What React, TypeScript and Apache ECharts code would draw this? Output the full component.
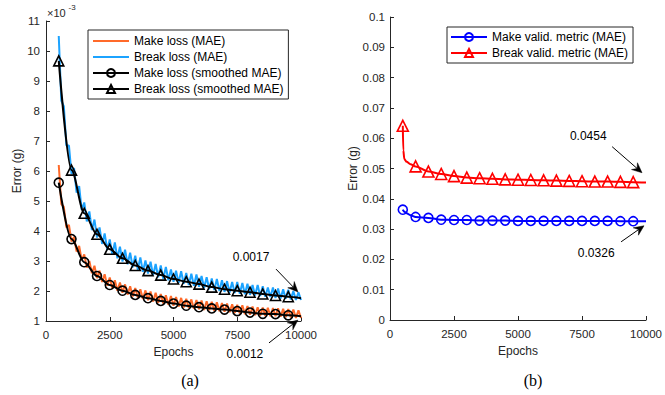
import React, { useEffect, useRef } from 'react';
import * as echarts from 'echarts';

// ---------- data ----------
// raw training losses sampled every 100 epochs from 500 to 10000 (x 10^-3 g)
const rawStart = 500;
const rawStep = 100;
const makeRaw = [
  6.2, 4.9, 4.8, 4.12, 4.2, 3.65, 3.8, 3.31, 3.5, 3.03,
  3.22, 2.78, 3.0, 2.59, 2.84, 2.43, 2.68, 2.3, 2.56, 2.18,
  2.45, 2.09, 2.36, 2.01, 2.28, 1.94, 2.22, 1.88, 2.16, 1.82,
  2.1, 1.78, 2.06, 1.73, 2.02, 1.69, 1.98, 1.65, 1.94, 1.61,
  1.9, 1.58, 1.86, 1.54, 1.83, 1.51, 1.8, 1.48, 1.77, 1.45,
  1.74, 1.43, 1.72, 1.41, 1.7, 1.39, 1.68, 1.37, 1.66, 1.36,
  1.64, 1.34, 1.62, 1.33, 1.6, 1.31, 1.58, 1.29, 1.56, 1.27,
  1.54, 1.25, 1.52, 1.23, 1.5, 1.21, 1.48, 1.19, 1.46, 1.18,
  1.45, 1.17, 1.44, 1.16, 1.43, 1.16, 1.42, 1.14, 1.41, 1.13,
  1.4, 1.12, 1.38, 1.1, 1.36, 1.1,
];
const breakRaw = [
  10.5, 8.35, 8.15, 6.85, 6.85, 5.9, 6.1, 5.28, 5.5, 4.7,
  4.95, 4.32, 4.65, 4.03, 4.38, 3.78, 4.12, 3.57, 3.92, 3.37,
  3.72, 3.21, 3.62, 3.09, 3.48, 2.98, 3.38, 2.89, 3.28, 2.79,
  3.18, 2.71, 3.12, 2.64, 3.02, 2.58, 2.98, 2.52, 2.9, 2.46,
  2.85, 2.41, 2.8, 2.36, 2.72, 2.31, 2.68, 2.27, 2.66, 2.24,
  2.6, 2.2, 2.58, 2.17, 2.55, 2.14, 2.5, 2.1, 2.46, 2.06,
  2.42, 2.03, 2.4, 2.0, 2.36, 1.97, 2.33, 1.95, 2.3, 1.93,
  2.3, 1.91, 2.27, 1.89, 2.24, 1.87, 2.2, 1.85, 2.2, 1.83,
  2.16, 1.81, 2.12, 1.8, 2.12, 1.77, 2.08, 1.75, 2.06, 1.74,
  2.04, 1.72, 2.0, 1.7, 1.96, 1.7,
];

// smoothed losses (markers every 500 epochs, last point at 10000 without marker)
const smoothEpochs = [500, 1000, 1500, 2000, 2500, 3000, 3500, 4000, 4500, 5000,
  5500, 6000, 6500, 7000, 7500, 8000, 8500, 9000, 9500, 10000];
const makeSmooth = [5.61, 3.73, 2.96, 2.5, 2.2, 2.01, 1.87, 1.76, 1.67, 1.58,
  1.51, 1.46, 1.42, 1.38, 1.33, 1.28, 1.24, 1.23, 1.19, 1.16];
const breakSmooth = [9.67, 6.03, 4.59, 3.89, 3.39, 3.09, 2.85, 2.68, 2.53, 2.4,
  2.31, 2.23, 2.13, 2.06, 2.01, 1.96, 1.9, 1.85, 1.81, 1.76];

// validation metrics
const validEpochs = [500, 520, 560, 650, 800, 1000, 1500, 2000, 2500, 3000, 3500, 4000,
  4500, 5000, 5500, 6000, 6500, 7000, 7500, 8000, 8500, 9000, 9500, 10000];
const makeValid = [0.0364, 0.0361, 0.0357, 0.0352, 0.0346, 0.034, 0.0337, 0.0331, 0.033, 0.033,
  0.0328, 0.0328, 0.0328, 0.0327, 0.0327, 0.0327, 0.0327, 0.0327, 0.0327, 0.0327,
  0.0327, 0.0326, 0.0326, 0.0326];
const breakValid = [0.0641, 0.056, 0.0531, 0.0522, 0.0514, 0.0507, 0.049, 0.0482, 0.0475, 0.047,
  0.0468, 0.0466, 0.0464, 0.0463, 0.0462, 0.0461, 0.046, 0.0459, 0.0458, 0.0457,
  0.0457, 0.0456, 0.0455, 0.0454];

const xTicks = { min: 0, max: 10000, interval: 2500 };
const yLeft = { min: 1, max: 11, interval: 1 };
const yRight = { min: 0, max: 0.1, interval: 0.01 };

// annotations in data coordinates
const annotations = [
  { grid: 0, text: '0.0017', at: [8040, 3.13], from: [9020, 2.73], to: [9880, 1.97] },
  { grid: 0, text: '0.0012', at: [7800, -0.1], from: [8745, 0.27], to: [9880, 1.03] },
  { grid: 1, text: '0.0454', at: [7743, 0.0608], from: [8677, 0.0572], to: [9844, 0.0486] },
  { grid: 1, text: '0.0326', at: [8054, 0.0222], from: [9027, 0.0258], to: [9922, 0.0311] },
];

const ORANGE = '#FF6A2A';
const LIGHTBLUE = '#1CA3FF';
const FONT = '"Liberation Sans", Arial, Helvetica, sans-serif';
const AX = '#262626';
const LINE_ICON = 'path://M0,0L36,0L36,2L0,2Z';

function axisCommon() {
  return {
    axisLine: { show: true, lineStyle: { color: AX, width: 1 } },
    axisTick: { show: true, inside: true, length: 4, lineStyle: { color: AX } },
    splitLine: { show: false },
    nameTextStyle: { color: AX, fontSize: 12, fontFamily: FONT },
  };
}

export default function App() {
  const ref = useRef<HTMLDivElement>(null);
  useEffect(() => {
    if (!ref.current) return;
    const chart = echarts.init(ref.current, null, { renderer: 'svg' });
    const rawEpochs = makeRaw.map((_, i) => rawStart + i * rawStep);
    const smoothData = (vals: number[]) =>
      smoothEpochs.map((e, i) =>
        i === smoothEpochs.length - 1 ? { value: [e, vals[i]], symbol: 'none' } : { value: [e, vals[i]] });
    const validData = (vals: number[]) =>
      validEpochs.map((e, i) => (e % 500 === 0 && e < 10000 ? { value: [e, vals[i]] } : { value: [e, vals[i]], symbol: 'none' }));
    const xLabel = { color: AX, fontSize: 11.5, fontFamily: FONT, margin: 8, formatter: (v: number) => String(v) };

    const option: any = {
      animation: false,
      backgroundColor: '#fff',
      textStyle: { fontFamily: FONT },
      grid: [
        { left: 46, top: 21, width: 255, height: 300 },
        { left: 390, top: 17, width: 257, height: 303 },
      ],
      xAxis: [
        { type: 'value', gridIndex: 0, ...xTicks, ...axisCommon(), axisLabel: xLabel, name: 'Epochs', nameLocation: 'middle', nameGap: 23 },
        { type: 'value', gridIndex: 1, ...xTicks, ...axisCommon(), axisLabel: xLabel, name: 'Epochs', nameLocation: 'middle', nameGap: 23 },
      ],
      yAxis: [
        { type: 'value', gridIndex: 0, ...yLeft, ...axisCommon(), name: 'Error (g)', nameLocation: 'middle', nameGap: 21,
          axisLabel: { color: AX, fontSize: 11.5, fontFamily: FONT, margin: 6 } },
        { type: 'value', gridIndex: 1, ...yRight, ...axisCommon(), name: 'Error (g)', nameLocation: 'middle', nameGap: 31,
          axisLabel: { color: AX, fontSize: 11.5, fontFamily: FONT, margin: 5 } },
      ],
      legend: [
        {
          data: [
            { name: 'Make loss (MAE)', icon: LINE_ICON },
            { name: 'Break loss (MAE)', icon: LINE_ICON },
            'Make loss (smoothed MAE)',
            'Break loss (smoothed MAE)',
          ],
          left: 88, top: 30, orient: 'vertical', itemWidth: 36, itemHeight: 10, itemGap: 0,
          padding: [3, 5, 2, 4], borderColor: AX, borderWidth: 1, backgroundColor: '#fff', selectedMode: false,
          textStyle: { fontSize: 12, color: '#000', lineHeight: 16, fontFamily: FONT },
        },
        {
          data: ['Make valid. metric (MAE)', 'Break valid. metric (MAE)'],
          left: 447, top: 27, orient: 'vertical', itemWidth: 36, itemHeight: 10, itemGap: 0,
          padding: [2, 5, 2, 3], borderColor: AX, borderWidth: 1, backgroundColor: '#fff', selectedMode: false,
          textStyle: { fontSize: 12, color: '#000', lineHeight: 16, fontFamily: FONT },
        },
      ],
      series: [
        {
          name: 'Make loss (MAE)', type: 'line', xAxisIndex: 0, yAxisIndex: 0, symbol: 'none',
          data: rawEpochs.map((e, i) => [e, makeRaw[i]]), color: ORANGE,
          lineStyle: { color: ORANGE, width: 2 },
        },
        {
          name: 'Break loss (MAE)', type: 'line', xAxisIndex: 0, yAxisIndex: 0, symbol: 'none',
          data: rawEpochs.map((e, i) => [e, breakRaw[i]]), color: LIGHTBLUE,
          lineStyle: { color: LIGHTBLUE, width: 2 },
        },
        {
          name: 'Make loss (smoothed MAE)', type: 'line', xAxisIndex: 0, yAxisIndex: 0,
          symbol: 'circle', symbolSize: 9, smooth: 0.3, smoothMonotone: 'x', z: 5,
          data: smoothData(makeSmooth), color: '#000',
          lineStyle: { color: '#000', width: 2 },
          itemStyle: { color: 'rgba(0,0,0,0)', borderColor: '#000', borderWidth: 1.6 },
        },
        {
          name: 'Break loss (smoothed MAE)', type: 'line', xAxisIndex: 0, yAxisIndex: 0,
          symbol: 'triangle', symbolSize: 10, smooth: 0.3, smoothMonotone: 'x', z: 5,
          data: smoothData(breakSmooth), color: '#000',
          lineStyle: { color: '#000', width: 2 },
          itemStyle: { color: 'rgba(0,0,0,0)', borderColor: '#000', borderWidth: 1.6 },
        },
        {
          name: 'Make valid. metric (MAE)', type: 'line', xAxisIndex: 1, yAxisIndex: 1,
          symbol: 'circle', symbolSize: 9, smooth: 0.3, smoothMonotone: 'x',
          data: validData(makeValid), color: '#0000FF',
          lineStyle: { color: '#0000FF', width: 2 },
          itemStyle: { color: 'rgba(0,0,0,0)', borderColor: '#0000FF', borderWidth: 1.6 },
        },
        {
          name: 'Break valid. metric (MAE)', type: 'line', xAxisIndex: 1, yAxisIndex: 1,
          symbol: 'triangle', symbolSize: 11, smooth: 0.3, smoothMonotone: 'x',
          data: validData(breakValid), color: '#FF0000',
          lineStyle: { color: '#FF0000', width: 2 },
          itemStyle: { color: 'rgba(0,0,0,0)', borderColor: '#FF0000', borderWidth: 1.6 },
        },
      ],
    };
    chart.setOption(option);

    const graphics: any[] = [];
    annotations.forEach((a, k) => {
      const t = chart.convertToPixel({ gridIndex: a.grid }, a.at) as number[];
      const p0 = chart.convertToPixel({ gridIndex: a.grid }, a.from) as number[];
      const p1 = chart.convertToPixel({ gridIndex: a.grid }, a.to) as number[];
      const dx = p1[0] - p0[0];
      const dy = p1[1] - p0[1];
      const len = Math.hypot(dx, dy);
      const ux = dx / len, uy = dy / len;
      const nx = -uy, ny = ux;
      const L = 10, W = 4.5;
      const notch = [p1[0] - 0.65 * L * ux, p1[1] - 0.65 * L * uy];
      graphics.push({
        type: 'text', id: 'at' + k, x: t[0], y: t[1], z: 100,
        style: { text: a.text, fill: '#000', font: `12px ${FONT}`, align: 'center', verticalAlign: 'middle' },
      });
      graphics.push({
        type: 'line', id: 'al' + k, z: 100,
        shape: { x1: p0[0], y1: p0[1], x2: notch[0], y2: notch[1] },
        style: { stroke: '#000', lineWidth: 1 },
      });
      graphics.push({
        type: 'polygon', id: 'ah' + k, z: 100,
        shape: {
          points: [
            [p1[0], p1[1]],
            [p1[0] - L * ux + W * nx, p1[1] - L * uy + W * ny],
            notch,
            [p1[0] - L * ux - W * nx, p1[1] - L * uy - W * ny],
          ],
        },
        style: { fill: '#000', stroke: '#000', lineWidth: 0.5 },
      });
    });
    graphics.push({
      type: 'text', id: 'exp1', left: 47, top: 7, z: 100,
      style: { text: '×10', fill: AX, font: `11px ${FONT}` },
    });
    graphics.push({
      type: 'text', id: 'exp2', left: 68.5, top: 3, z: 100,
      style: { text: '-3', fill: AX, font: `8px ${FONT}` },
    });
    graphics.push({
      type: 'text', id: 'capA', x: 190, y: 380, z: 100,
      style: { text: '(a)', fill: '#000', font: '16px "Liberation Serif", "Times New Roman", serif', align: 'center', verticalAlign: 'middle' },
    });
    graphics.push({
      type: 'text', id: 'capB', x: 533, y: 380, z: 100,
      style: { text: '(b)', fill: '#000', font: '16px "Liberation Serif", "Times New Roman", serif', align: 'center', verticalAlign: 'middle' },
    });
    chart.setOption({ graphic: graphics });

    return () => chart.dispose();
  }, []);
  return (
    <div
      ref={ref}
      style={{ position: 'fixed', left: 0, top: 0, width: 665, height: 395, background: '#fff' }}
    />
  );
}
